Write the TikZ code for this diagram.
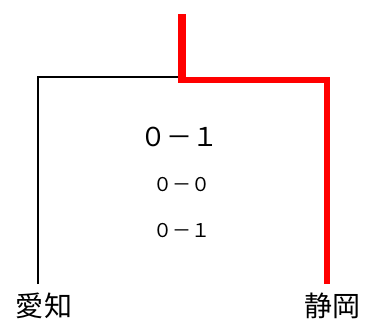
\documentclass[tikz,border=0pt]{standalone}
\usepackage{fontspec}
\newfontfamily\jp{Noto Sans CJK JP}
\begin{document}
\begin{tikzpicture}[x=1pt,y=-1pt,
    lose/.style={black,line width=2pt},
    win/.style={red,line width=6pt},
    score/.style={font=\jp\fontsize{26}{28}\selectfont},
    subscore/.style={font=\jp\fontsize{19}{21}\selectfont},
    team/.style={font=\jp\fontsize{28}{30}\selectfont}]
    \useasboundingbox (0,0) rectangle (366,325);
    \coordinate (top) at (182,14);
    \coordinate (mid) at (182,80);
    \coordinate (midL) at (179,77);
    \coordinate (cornerL) at (38,77);
    \coordinate (cornerR) at (327,80);
    \coordinate (endL) at (38,284);
    \coordinate (endR) at (327,284);
    \node[team] (aichi) at (44,306) {愛知};
    \node[team] (shizuoka) at (332,306) {静岡};
    \node[score] (final) at (179,137) {０－１};
    \node[subscore] (first) at (182,185) {０－０};
    \node[subscore] (second) at (182,231) {０－１};
    \draw[lose] (endL)--(cornerL)--(midL);
    \draw[red,line width=8pt] (top)--(182,83);
    \draw[win] (mid)--(cornerR)--(endR);
\end{tikzpicture}
\end{document}
